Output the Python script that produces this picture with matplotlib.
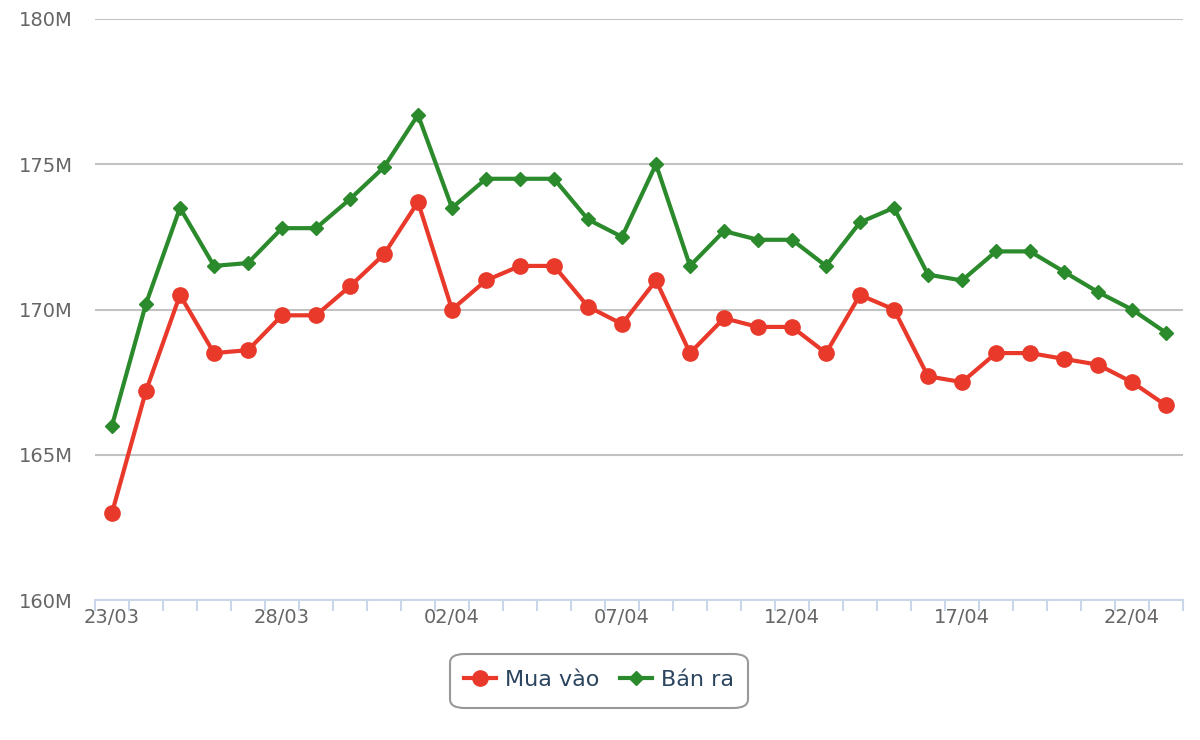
import matplotlib.pyplot as plt
from matplotlib.patches import FancyBboxPatch
from matplotlib.lines import Line2D

dates = ['23/03', '24/03', '25/03', '26/03', '27/03', '28/03', '29/03', '30/03',
         '31/03', '01/04', '02/04', '03/04', '04/04', '05/04', '06/04', '07/04',
         '08/04', '09/04', '10/04', '11/04', '12/04', '13/04', '14/04', '15/04',
         '16/04', '17/04', '18/04', '19/04', '20/04', '21/04', '22/04', '23/04']
mua_vao = [163.0, 167.2, 170.5, 168.5, 168.6, 169.8, 169.8, 170.8, 171.9, 173.7,
           170.0, 171.0, 171.5, 171.5, 170.1, 169.5, 171.0, 168.5, 169.7, 169.4,
           169.4, 168.5, 170.5, 170.0, 167.7, 167.5, 168.5, 168.5, 168.3, 168.1,
           167.5, 166.7]
ban_ra = [166.0, 170.2, 173.5, 171.5, 171.6, 172.8, 172.8, 173.8, 174.9, 176.7,
          173.5, 174.5, 174.5, 174.5, 173.1, 172.5, 175.0, 171.5, 172.7, 172.4,
          172.4, 171.5, 173.0, 173.5, 171.2, 171.0, 172.0, 172.0, 171.3, 170.6,
          170.0, 169.2]
y_ticks = [160, 165, 170, 175, 180]

red = '#e8392b'
green = '#2b8a2b'

fig = plt.figure(figsize=(12, 7.4), dpi=100)
ax = fig.add_axes([95 / 1200, 1 - 600 / 740, (1183 - 95) / 1200, (600 - 19) / 740])

x = list(range(len(dates)))
ax.plot(x, mua_vao, color=red, lw=3, marker='o', ms=11, zorder=3, clip_on=False)
ax.plot(x, ban_ra, color=green, lw=3, marker='D', ms=7.5, zorder=3, clip_on=False)

ax.set_xlim(-0.5, len(dates) - 0.5)
ax.set_ylim(160, 180)
ax.set_yticks(y_ticks)
ax.set_yticklabels([f'{v}M' for v in y_ticks])
ax.yaxis.grid(True, color='#c2c2c2', lw=1.5)
ax.set_axisbelow(True)

ax.set_xticks(x[::5])
ax.set_xticklabels(dates[::5])
ax.set_xticks([i - 0.5 for i in range(len(dates) + 1)], minor=True)
ax.tick_params(axis='x', which='major', length=0, pad=6, labelsize=14, colors='#666666')
ax.tick_params(axis='x', which='minor', length=8, width=1.5, color='#ccd6eb', direction='out')
ax.tick_params(axis='y', length=0, pad=16, labelsize=14, colors='#666666')

for s in ['top', 'right', 'left']:
    ax.spines[s].set_visible(False)
ax.spines['bottom'].set_color('#ccd6eb')
ax.spines['bottom'].set_linewidth(1.5)

# legend
box = FancyBboxPatch((450 / 1200, 1 - 708 / 740), 298 / 1200, 54 / 740,
                     boxstyle='round,pad=0,rounding_size=0.012',
                     transform=fig.transFigure, fc='white', ec='#999999', lw=1.5)
fig.patches.append(box)
handles = [Line2D([], [], color=red, lw=3, marker='o', ms=11),
           Line2D([], [], color=green, lw=3, marker='D', ms=7.5)]
fig.legend(handles, ['Mua vào', 'Bán ra'], loc='center', bbox_to_anchor=(599 / 1200, 1 - 680 / 740),
           ncol=2, frameon=False, fontsize=16, labelcolor='#2b4560', handlelength=1.45,
           columnspacing=0.9, handletextpad=0.4)

fig.savefig('out.png', dpi=100)
